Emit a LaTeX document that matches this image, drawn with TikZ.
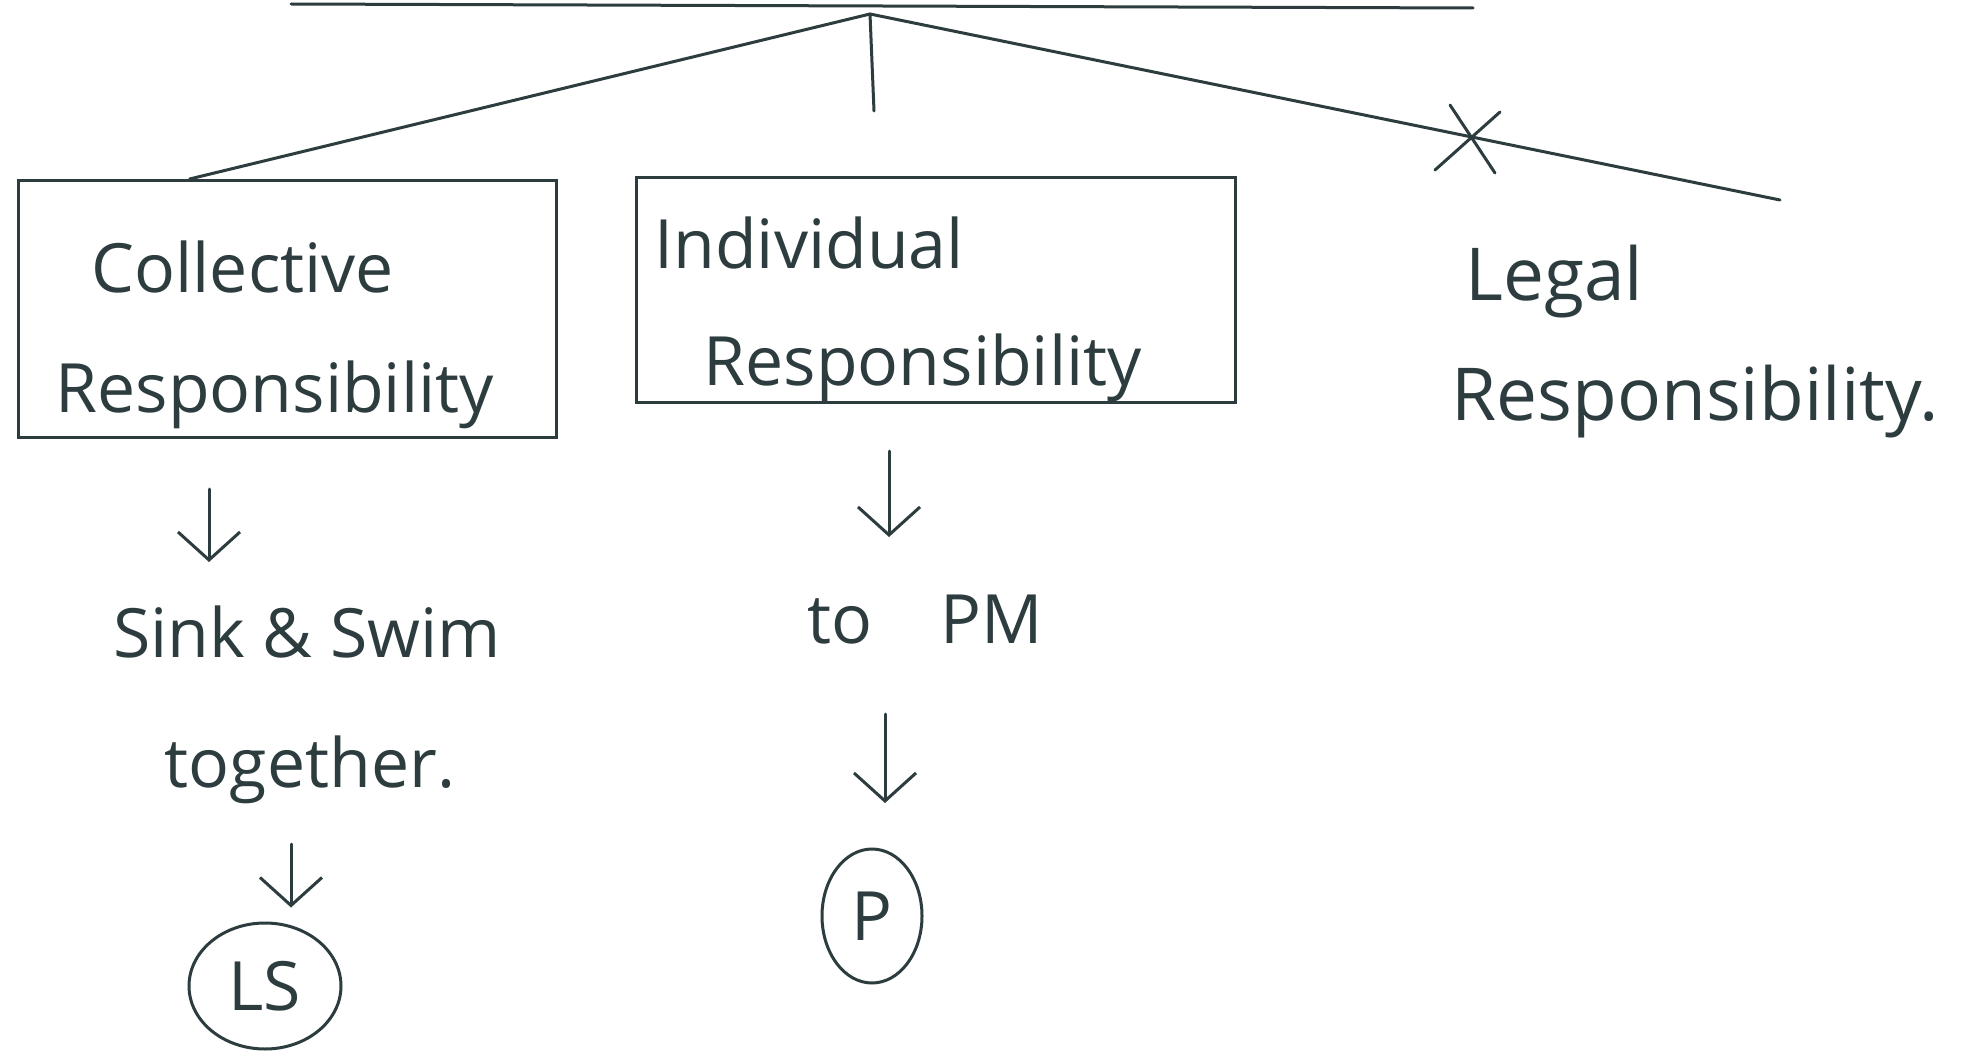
\documentclass[tikz,border=0pt]{standalone}
\usepackage{fontspec}
\setmainfont{Open Sans}
\usetikzlibrary{arrows.meta,shapes.geometric,calc}
\definecolor{ink}{RGB}{45,60,62}
\begin{document}
\begin{tikzpicture}[x=1pt,y=-1pt,
  every node/.style={text=ink,font=\fontsize{68}{82}\selectfont},
  ln/.style={draw=ink,line width=3pt,line cap=round},
  arr/.style={ln,-{Straight Barb[length=28pt,width=62pt,line width=3pt]}},
  rbox/.style={draw=ink,line width=3pt,align=left,inner sep=0pt},
  ring/.style={draw=ink,line width=3pt,ellipse,inner sep=0pt}]
\useasboundingbox (0,0) rectangle (1982,1054);
\fill[white] (0,0) rectangle (1982,1054);
% top bar
\coordinate (tl) at (291,4);
\coordinate (tr) at (1473,8);
\coordinate (apex) at (870,14);
\draw[ln] (tl) -- (tr);
% boxes
\node[rbox,minimum width=538pt,minimum height=257pt] (coll) at (287,309) {};
\node[anchor=base west] (colltxt1) at (88,292) {Collective};
\node[anchor=base west] (colltxt2) at (52,412) {Responsibility};
\node[rbox,minimum width=599pt,minimum height=225pt] (indiv) at (936,290) {};
\node[anchor=base west] (indtxt1) at (651,268) {Individual};
\node[anchor=base west] (indtxt2) at (700,385) {Responsibility};
\node[anchor=base west,font=\fontsize{73}{88}\selectfont] (legal1) at (1462,300) {Legal};
\node[anchor=base west,font=\fontsize{73}{88}\selectfont] (legal2) at (1448,420) {Responsibility.};
% branches
\coordinate (midend) at (874,111);
\coordinate (rightend) at (1780,200);
\draw[ln] (apex) -- ($(coll.north west)!0.32!(coll.north east)$);
\draw[ln] (apex) -- (midend);
\draw[ln] (apex) -- (rightend);
\draw[ln] (1450,105) -- (1495,173);
\draw[ln] (1500,112) -- (1435,170);
% left column
\node (sink) at (307,632) {Sink \& Swim};
\node (tog) at (310,770) {together.};
\node[ring,minimum width=152pt,minimum height=126pt] (ls) at (265,986) {LS};
\coordinate (a1s) at ($(coll.south)+(-78,50)$);
\draw[arr] (a1s) -- (a1s |- 0,562);
\coordinate (a3s) at (291,844);
\draw[arr] (a3s) -- ($(a3s |- ls.north)+(0,-14)$);
% middle column
\node (topm) at (925,620) {to\quad PM};
\node[ring,minimum width=100pt,minimum height=134pt] (p) at (872,916) {P};
\coordinate (a2s) at ($(indiv.south -| 889,0)+(0,47)$);
\draw[arr] (a2s) -- (a2s |- 0,537);
\coordinate (a4s) at (885,714);
\draw[arr] (a4s) -- (a4s |- 0,803);
\end{tikzpicture}
\end{document}
